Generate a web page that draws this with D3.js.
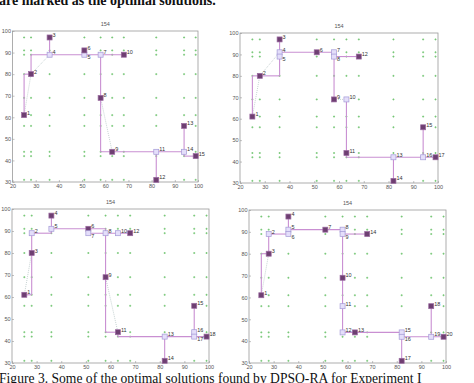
<!DOCTYPE html>
<html><head><meta charset="utf-8">
<script src="https://cdn.jsdelivr.net/npm/d3@7"></script>
<style>
html,body{margin:0;padding:0;background:#fff;overflow:hidden}
svg{display:block}
</style></head>
<body>
<script>
// ---- data ----
const xTicks = [20,30,40,50,60,70,80,90,100];
const yTicks = [30,40,50,60,70,80,90,100];
const gridX = [25,28,36,51,58,63,68,82,94,99];
const gridY = [97,91,89,80,69,61,56,44,42,31];
const panelTitles = ["154","154","154","154"];

// nodes: [label, x, y, kind] kind d = selected (dark), l = light
const nodes1 = [[1,25,61,"d"],[2,28,80,"d"],[3,36,97,"d"],[4,36,89,"l"],[5,51,89,"l"],[6,51,91,"d"],
  [7,58,89,"l"],[8,58,69,"d"],[9,63,44,"d"],[10,68,89,"d"],[11,82,44,"l"],[12,82,31,"d"],
  [13,94,56,"d"],[14,94,44,"l"],[15,99,42,"d"]];
const nodes2 = [[1,25,61,"d"],[2,28,80,"d"],[3,36,97,"d"],[4,36,91,"l"],[5,36,89,"l"],[6,51,91,"d"],
  [7,58,91,"l"],[8,58,89,"l"],[9,58,69,"d"],[10,63,69,"l"],[11,63,44,"d"],[12,68,89,"d"],
  [13,82,42,"l"],[14,82,31,"d"],[15,94,56,"d"],[16,94,42,"l"],[17,99,42,"d"]];
const nodes3 = [[1,25,61,"d"],[2,28,89,"l"],[3,28,80,"d"],[4,36,97,"d"],[5,36,91,"l"],[6,51,91,"d"],
  [7,51,89,"l"],[8,58,89,"l"],[9,58,69,"d"],[10,63,89,"l"],[11,63,44,"d"],[12,68,89,"d"],
  [13,82,42,"l"],[14,82,31,"d"],[15,94,56,"d"],[16,94,44,"l"],[17,94,42,"l"],[18,99,42,"d"]];
const nodes4 = [[1,25,61,"d"],[2,28,89,"l"],[3,28,80,"d"],[4,36,97,"d"],[5,36,91,"l"],[6,36,89,"l"],
  [7,51,91,"d"],[8,58,91,"l"],[9,58,89,"l"],[10,58,69,"d"],[11,58,56,"l"],[12,58,44,"l"],
  [13,63,44,"d"],[14,68,89,"d"],[15,82,44,"l"],[16,82,42,"l"],[17,82,31,"d"],[18,94,56,"d"],
  [19,94,42,"l"],[20,99,42,"d"]];

// tree edges (rectilinear): [x1,y1,x2,y2]
const edges1 = [[25,61,25,80],[25,80,28,80],[28,80,28,89],[28,89,68,89],[36,89,36,97],[51,89,51,91],
  [58,89,58,44],[58,44,94,44],[82,44,82,31],[94,44,94,56],[94,44,94,42],[94,42,99,42]];
const edges2 = [[25,61,25,80],[25,80,36,80],[36,80,36,97],[36,91,58,91],[58,91,58,69],[58,89,68,89],
  [63,69,63,42],[63,42,99,42],[82,42,82,31],[94,42,94,56]];
const edges3 = [[25,61,28,61],[28,61,28,89],[28,89,36,89],[36,89,36,97],[36,91,58,91],[51,89,51,91],
  [51,89,68,89],[58,91,58,44],[58,44,63,44],[63,44,63,42],[63,42,99,42],[82,42,82,31],[94,42,94,56]];
const edges4 = [[25,61,25,80],[25,80,28,80],[28,80,28,89],[28,89,36,89],[36,89,36,97],[36,91,58,91],
  [58,91,58,44],[58,89,68,89],[58,44,82,44],[82,44,82,31],[82,42,99,42],[94,42,94,56]];

// dotted direct links
const dots1 = [[25,61,28,80],[28,80,36,89],[58,69,63,44]];
const dots2 = [[25,61,28,80],[28,80,36,91],[58,69,63,69]];
const dots3 = [[25,61,28,80],[58,69,63,44]];
const dots4 = [[25,61,28,80]];

const topText = "are marked as the optimal solutions.";
const caption = "Figure 3. Some of the optimal solutions found by DPSO-RA for Experiment I";

// ---- layout ----
const W = 474, H = 383;
const panels = [
  {box:[12.5,198,31,182], nodes:nodes1, edges:edges1, dots:dots1},
  {box:[240,438,33,183], nodes:nodes2, edges:edges2, dots:dots2},
  {box:[12,209,209,363], nodes:nodes3, edges:edges3, dots:dots3},
  {box:[249,446,210,363], nodes:nodes4, edges:edges4, dots:dots4}
];

const svg = d3.select("body").append("svg").attr("width",W).attr("height",H);

svg.append("text").attr("x",-1).attr("y",5)
  .attr("font-family","Liberation Serif").attr("font-weight","bold").attr("font-size",14)
  .attr("fill","#111").text(topText);

panels.forEach((p,i)=>{
  const [x0,x1,y0,y1] = p.box;
  const x = d3.scaleLinear().domain([20,100]).range([x0,x1]);
  const y = d3.scaleLinear().domain([30,100]).range([y1,y0]);
  const g = svg.append("g");

  // green candidate grid
  const pts = [];
  gridX.forEach(a=>gridY.forEach(b=>pts.push([a,b])));
  g.selectAll(".gp").data(pts).join("path")
    .attr("d",d=>`M${x(d[0])-1},${y(d[1])}h2M${x(d[0])},${y(d[1])-1}v2`)
    .attr("stroke","#6cc36c").attr("stroke-width",0.8);

  // frame
  g.append("rect").attr("x",x0).attr("y",y0).attr("width",x1-x0).attr("height",y1-y0)
    .attr("fill","none").attr("stroke","#9a9a9a").attr("stroke-width",0.8);

  // axes
  const ax = d3.axisBottom(x).tickValues(xTicks).tickSize(-2).tickPadding(2);
  const ay = d3.axisLeft(y).tickValues(yTicks).tickSize(-2).tickPadding(1.5);
  const gx = g.append("g").attr("transform",`translate(0,${y1})`).call(ax);
  const gy = g.append("g").attr("transform",`translate(${x0},0)`).call(ay);
  [gx,gy].forEach(a=>{
    a.select(".domain").remove();
    a.selectAll("line").attr("stroke","#999").attr("stroke-width",0.6);
    a.selectAll("text").attr("font-family","Liberation Sans").attr("font-size",5.5).attr("fill","#555");
  });

  // title
  g.append("text").attr("x",(x0+x1)/2).attr("y",y0-5).attr("text-anchor","middle")
    .attr("font-family","Liberation Sans").attr("font-size",5.5).attr("fill","#555").text(panelTitles[i]);

  // dotted links
  g.selectAll(".dl").data(p.dots).join("line")
    .attr("x1",d=>x(d[0])).attr("y1",d=>y(d[1])).attr("x2",d=>x(d[2])).attr("y2",d=>y(d[3]))
    .attr("stroke","#b9c8c8").attr("stroke-width",0.8).attr("stroke-dasharray","1,1");

  // tree edges
  g.selectAll(".ed").data(p.edges).join("line")
    .attr("x1",d=>x(d[0])).attr("y1",d=>y(d[1])).attr("x2",d=>x(d[2])).attr("y2",d=>y(d[3]))
    .attr("stroke","#c98fd2").attr("stroke-width",1.1);

  // nodes
  const s = 5;
  g.selectAll(".nd").data(p.nodes).join("rect")
    .attr("x",d=>x(d[1])-s/2).attr("y",d=>y(d[2])-s/2).attr("width",s).attr("height",s)
    .attr("fill",d=>d[3]==="d"?"#6e3f72":"#e4defa")
    .attr("stroke",d=>d[3]==="d"?"#9a6aa0":"#a49ad6").attr("stroke-width",0.7);

  // labels: a node sitting just below another one at the same x gets its label below
  const below = d => p.nodes.some(o => o !== d && o[1] === d[1] && o[2] > d[2] && o[2] - d[2] <= 3);
  g.selectAll(".lb").data(p.nodes).join("text")
    .attr("x",d=>x(d[1])+3).attr("y",d=>below(d) ? y(d[2])+4.5 : y(d[2])-0.5)
    .attr("font-family","Liberation Sans").attr("font-size",5.5).attr("fill","#333")
    .text(d=>d[0]);
});

svg.append("text").attr("x",-1).attr("y",382.5)
  .attr("font-family","Liberation Serif").attr("font-size",13.6)
  .attr("fill","#111").text(caption);
</script>
</body></html>
